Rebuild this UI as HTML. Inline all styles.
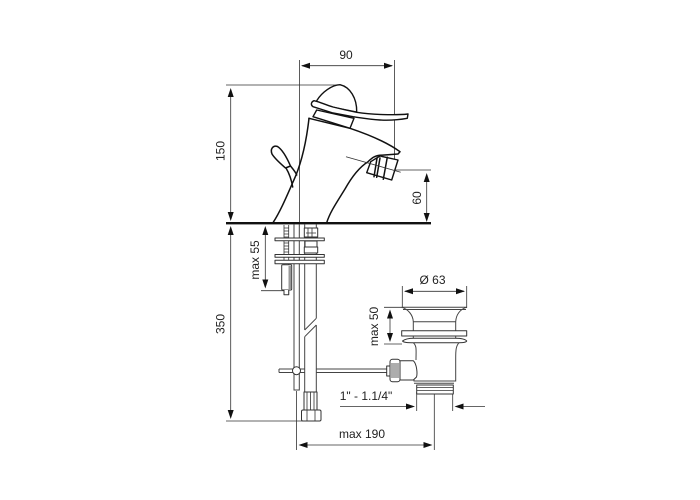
<!DOCTYPE html>
<html><head><meta charset="utf-8"><style>
html,body{margin:0;padding:0;background:#fff;width:700px;height:500px;overflow:hidden}
svg{display:block}
text{font-family:"Liberation Sans",sans-serif;font-size:12px;fill:#222;text-anchor:middle;dominant-baseline:central}
.t{fill:none;stroke:#333;stroke-width:.8}
.m{fill:none;stroke:#111;stroke-width:1.5;stroke-linejoin:round;stroke-linecap:round}
.p{fill:none;stroke:#444;stroke-width:1}
.w{fill:#fff;stroke:#111;stroke-width:1.4;stroke-linejoin:round}
.g{fill:#fff;stroke:#333;stroke-width:1;stroke-linejoin:round}
.a{fill:#111;stroke:none}
</style></head><body>
<svg width="700" height="500" viewBox="0 0 700 500">
<!-- dimension lines -->
<g class="t">
<path d="M299.5 60V223M296.5 391V450"/>
<path d="M394.5 60V160"/>
<path d="M302 65.7H392"/>
<path d="M226 85H340"/>
<path d="M230.7 90V219M230.7 230V417"/>
<path d="M226 421H320"/>
<path d="M395 170H431"/>
<path d="M426.7 176V218"/>
<path d="M265.3 230V285M261 290.7H284"/>
<path d="M402.3 286V308M466.7 286V308M405 291.3H464"/>
<path d="M384 307.3H402M384 344H402M390 314V338"/>
<path d="M340 406.5H412M458 406.5H485"/>
<path d="M416.7 392V411M452.7 392V411"/>
<path d="M434.3 392V450M300 445H430"/>
</g>
<!-- arrowheads -->
<g class="a">
<path d="M301 65.7l9-3v6z"/><path d="M393 65.7l-9-3v6z"/>
<path d="M230.7 88l-3 9h6z"/><path d="M230.7 221l-3-9h6z"/>
<path d="M230.7 226l-3 9h6z"/><path d="M230.7 419l-3-9h6z"/>
<path d="M426.7 173l-3 9h6z"/><path d="M426.7 222l-3-9h6z"/>
<path d="M265.3 226l-3 9h6z"/><path d="M265.3 288.5l-3-9h6z"/>
<path d="M404 291.3l9-3v6z"/><path d="M465 291.3l-9-3v6z"/>
<path d="M390 309.5l-3 9h6z"/><path d="M390 342l-3-9h6z"/>
<path d="M415 406.5l-9-3v6z"/><path d="M454.5 406.5l9-3v6z"/>
<path d="M432.5 445l-9-3v6z"/><path d="M298.5 445l9-3v6z"/>
</g>
<!-- ground -->
<rect x="226" y="222" width="205" height="2.4" fill="#111"/>
<!-- faucet body -->
<path class="m" d="M309 118.3C306 145 301 165 293 182C286 198 280 212 273 222.7"/>
<path class="m" d="M309 118.3L350 128.3C370 135 388 143 400 151.7L398 154L380 155.3"/>
<path class="m" d="M380 155.3C374 156 372 158 368 161.7C358 168 350 180 345 189C337 202 330 212 326.7 222.7"/>
<!-- aerator -->
<path class="w" d="M380 156L398 160L391.7 180L366.7 172.7L370.7 161.7Z"/>
<path class="m" d="M377 158.3L374 176.7M380 158L376.7 177.3M387.3 157.3L383.3 179.3" stroke-width="1.2"/>
<path class="t" d="M346 156.7L400.7 172.3"/>
<!-- collar -->
<path class="w" d="M316.7 110L313 116.7L350 128.3L354 118.3Z"/>
<!-- dome -->
<path class="w" d="M316.7 100.7C322 92 332 85 340 84.7C350 87 357 98 356.7 112L316.7 104Z"/>
<!-- lever -->
<path class="w" d="M314 100.7C320 102 326 105 333 107C345 110 350 111 356.7 112.3C370 114.5 395 115.5 408 114L407.3 118.3C398 120 390 120.5 380 120C370 119.5 362 118 353 116.7L333 113L313 106.7C310.5 105 311 102 314 100.7Z"/>
<!-- popup knob -->
<path class="m" d="M290.5 166C287 158 283 150 277.5 146.5C273 145 270 149 272 154C275 159 281 164 285.5 168L290.5 166Z"/>
<path class="m" d="M290.5 166C293 169 296 173 296.7 175M286 168C289 173 291.5 180 292.7 187"/>
<!-- rods -->
<path class="p" d="M294 224V390H299.3V224"/>
<path class="p" d="M304.7 224V330M316.3 224V318.3M304.7 336.7V392M316.3 325V392M304.7 330L316.3 318.3M304.7 336.7L316.3 325"/>
<!-- threaded stud -->
<path class="t" d="M284 225V295M288.7 225V295M284 228h4.7M284 231h4.7M284 234h4.7M284 237h4.7M284 243h4.7M284 246h4.7M284 249h4.7M284 252h4.7"/>
<!-- hex nuts -->
<path class="g" d="M304.3 228H317.7V237H304.3Z"/>
<path class="t" d="M308 228V237M312 228V237M306 233H316"/>
<path class="g" d="M305 241H317V247H305Z"/>
<path class="g" d="M304.3 247H317.7V253H304.3Z"/>
<!-- plates -->
<rect x="275" y="238" width="49.3" height="2.7" class="g"/>
<rect x="275" y="254.5" width="49.3" height="2.8" class="g"/>
<rect x="275" y="260.3" width="49.3" height="3.4" class="g"/>
<rect x="281.7" y="264.7" width="10" height="25.3" rx="1" class="g"/>
<rect x="288.5" y="266" width="2.5" height="23" fill="#999"/>
<path class="g" d="M284 290V294.7H288.7V290"/>
<!-- bottom fittings -->
<path class="g" d="M304 392H317V410H304Z"/>
<path class="t" d="M307 392V410M310.5 392V410M314 392V410"/>
<rect x="301.5" y="410" width="19.5" height="11" rx="1.5" class="g"/>
<path class="t" d="M307 410V421M315 410V421"/>
<!-- horizontal rod and T -->
<path class="p" d="M279 369H292.5M279 372.5H292.5M279 369V372.5M300.5 369H304.7M300.5 372.5H304.7M316.3 369H387M316.3 372.5H387"/>
<circle cx="296.5" cy="370.7" r="4" class="g"/>
<!-- drain -->
<path class="p" d="M401.7 307.3H466.7C460 309 456 315 455.7 321.7V330.7M401.7 307.3C408 309 413 315 413.3 321.7V330.7M403 309.5H466M413.3 321.7H455.7"/>
<rect x="401.7" y="330.7" width="65" height="5.3" class="g" fill="#e8e8e8"/>
<path class="p" d="M413.3 336V338.3M455.7 336V338.3"/>
<path class="g" d="M402.5 341C405 339 410 338.3 414 338.3H455C460 338.3 465 339 466.7 341C466 342.7 462 342.7 456 342.7H414C408 342.7 404 342.7 402.5 341Z"/>
<path class="p" d="M413.3 342.7C417 346 416 350 416 360M459 342.7C456 346 455.7 350 455.7 358V381H414V378"/>
<path class="p" d="M414 383.3H454"/>
<path class="g" d="M416.7 385H453.3V394H416.7Z" fill="none"/>
<path class="t" d="M416.7 387.5H453.3M416.7 390.5H453.3"/>
<!-- side connector -->
<path class="g" d="M400 360.7H413.3C417 364 417.5 374 416.5 377L413.3 380H400Z"/>
<path class="g" d="M386.7 366H390V376H386.7Z"/>
<rect x="390" y="359.3" width="10" height="22.4" rx="2.5" class="g"/>
<path class="t" d="M392 363V378M394 363V378M396 363V378M398 363V378"/>
<!-- labels -->
<text x="346" y="55">90</text>
<text transform="translate(220.5 151) rotate(-90)">150</text>
<text transform="translate(417 198) rotate(-90)">60</text>
<text transform="translate(255 260) rotate(-90)">max 55</text>
<text transform="translate(220.5 324) rotate(-90)">350</text>
<text transform="translate(374 326.5) rotate(-90)">max 50</text>
<text x="432.5" y="280">Ø 63</text>
<text x="366" y="396">1" - 1.1/4"</text>
<text x="362" y="434">max 190</text>
</svg>
</body></html>
